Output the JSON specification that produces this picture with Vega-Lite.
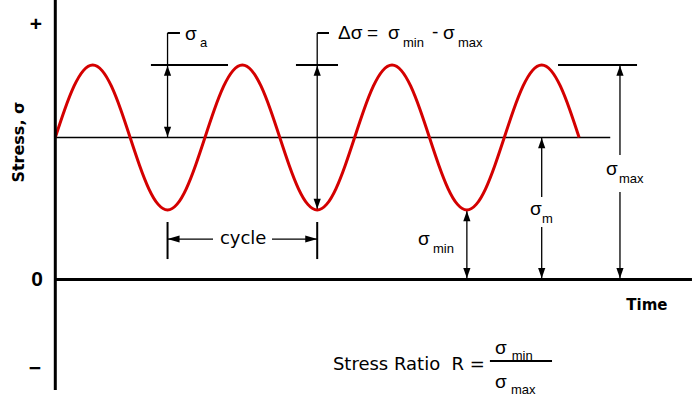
{
  "$schema": "https://vega.github.io/schema/vega-lite/v6.json",
  "width": 696,
  "height": 398,
  "autosize": "none",
  "padding": 0,
  "background": "white",
  "config": {"view": {"stroke": null}},
  "datasets": {
    "wave": [
      {"t":0,"s":10},{"t":0.0625,"s":11.95},{"t":0.125,"s":13.61},{"t":0.1875,"s":14.71},{"t":0.25,"s":15.1},{"t":0.3125,"s":14.71},{"t":0.375,"s":13.61},{"t":0.4375,"s":11.95},
      {"t":0.5,"s":10},{"t":0.5625,"s":8.05},{"t":0.625,"s":6.39},{"t":0.6875,"s":5.29},{"t":0.75,"s":4.9},{"t":0.8125,"s":5.29},{"t":0.875,"s":6.39},{"t":0.9375,"s":8.05},
      {"t":1,"s":10},{"t":1.0625,"s":11.95},{"t":1.125,"s":13.61},{"t":1.1875,"s":14.71},{"t":1.25,"s":15.1},{"t":1.3125,"s":14.71},{"t":1.375,"s":13.61},{"t":1.4375,"s":11.95},
      {"t":1.5,"s":10},{"t":1.5625,"s":8.05},{"t":1.625,"s":6.39},{"t":1.6875,"s":5.29},{"t":1.75,"s":4.9},{"t":1.8125,"s":5.29},{"t":1.875,"s":6.39},{"t":1.9375,"s":8.05},
      {"t":2,"s":10},{"t":2.0625,"s":11.95},{"t":2.125,"s":13.61},{"t":2.1875,"s":14.71},{"t":2.25,"s":15.1},{"t":2.3125,"s":14.71},{"t":2.375,"s":13.61},{"t":2.4375,"s":11.95},
      {"t":2.5,"s":10},{"t":2.5625,"s":8.05},{"t":2.625,"s":6.39},{"t":2.6875,"s":5.29},{"t":2.75,"s":4.9},{"t":2.8125,"s":5.29},{"t":2.875,"s":6.39},{"t":2.9375,"s":8.05},
      {"t":3,"s":10},{"t":3.0625,"s":11.95},{"t":3.125,"s":13.61},{"t":3.1875,"s":14.71},{"t":3.25,"s":15.1},{"t":3.3125,"s":14.71},{"t":3.375,"s":13.61},{"t":3.4375,"s":11.95},
      {"t":3.5,"s":10}
    ],
    "thick": [
      {"t":0,"s":19.7,"t2":0,"s2":-7.78},
      {"t":0,"s":0,"t2":4.254,"s2":0}
    ],
    "lines2": [
      {"t":0.639,"s":15.1,"t2":1.154,"s2":15.1},
      {"t":1.608,"s":15.1,"t2":1.889,"s2":15.1},
      {"t":3.359,"s":15.1,"t2":3.887,"s2":15.1},
      {"t":0.75,"s":17.36,"t2":0.833,"s2":17.36},
      {"t":1.75,"s":17.36,"t2":1.829,"s2":17.36},
      {"t":0.75,"s":4.05,"t2":0.75,"s2":1.44},
      {"t":1.75,"s":4.05,"t2":1.75,"s2":1.44},
      {"t":2.904,"s":-5.74,"t2":3.319,"s2":-5.74}
    ],
    "lines1": [
      {"t":0,"s":10,"t2":3.708,"s2":10},
      {"t":0.75,"s":17.36,"t2":0.75,"s2":10},
      {"t":1.75,"s":17.36,"t2":1.75,"s2":4.9},
      {"t":2.75,"s":4.9,"t2":2.75,"s2":0},
      {"t":3.25,"s":10,"t2":3.25,"s2":5.81},
      {"t":3.25,"s":3.7,"t2":3.25,"s2":0},
      {"t":3.773,"s":15.1,"t2":3.773,"s2":8.77},
      {"t":3.773,"s":6.16,"t2":3.773,"s2":0},
      {"t":0.75,"s":2.85,"t2":1.054,"s2":2.85},
      {"t":1.448,"s":2.85,"t2":1.75,"s2":2.85}
    ],
    "heads": [
      {"t":0.75,"s":14.7,"dir":"up"},
      {"t":0.75,"s":10.39,"dir":"down"},
      {"t":1.75,"s":14.7,"dir":"up"},
      {"t":1.75,"s":5.32,"dir":"down"},
      {"t":2.75,"s":4.47,"dir":"up"},
      {"t":2.75,"s":0.45,"dir":"down"},
      {"t":3.25,"s":9.61,"dir":"up"},
      {"t":3.25,"s":0.45,"dir":"down"},
      {"t":3.773,"s":14.7,"dir":"up"},
      {"t":3.773,"s":0.45,"dir":"down"},
      {"t":0.79,"s":2.85,"dir":"left"},
      {"t":1.71,"s":2.85,"dir":"right"}
    ],
    "sig": [
      {"t":0.866,"s":17.32,"text":"σ"},
      {"t":1.889,"s":17.36,"text":"Δσ"},
      {"t":2.083,"s":17.36,"text":"="},
      {"t":2.223,"s":17.36,"text":"σ"},
      {"t":2.517,"s":17.43,"text":"-"},
      {"t":2.59,"s":17.36,"text":"σ"},
      {"t":3.679,"s":7.77,"text":"σ"},
      {"t":3.171,"s":4.96,"text":"σ"},
      {"t":2.423,"s":2.85,"text":"σ"},
      {"t":2.938,"s":-4.82,"text":"σ"},
      {"t":2.938,"s":-7.22,"text":"σ"}
    ],
    "sub": [
      {"t":0.967,"s":16.65,"text":"a"},
      {"t":2.323,"s":16.65,"text":"min"},
      {"t":2.691,"s":16.65,"text":"max"},
      {"t":3.766,"s":7.08,"text":"max"},
      {"t":3.252,"s":4.26,"text":"m"},
      {"t":2.524,"s":2.15,"text":"min"},
      {"t":3.05,"s":-5.39,"text":"min"},
      {"t":3.045,"s":-7.78,"text":"max"}
    ],
    "lab": [
      {"t":1.1,"s":2.85,"text":"cycle"},
      {"t":1.855,"s":-5.99,"text":"Stress Ratio\u00a0\u00a0R ="}
    ],
    "signs": [
      {"t":-0.129,"s":17.92,"text":"+"},
      {"t":-0.122,"s":-0.035,"text":"0"},
      {"t":-0.136,"s":-6.3,"text":"−"}
    ],
    "time": [
      {"t":3.953,"s":-1.8,"text":"Time"}
    ],
    "ylab": [
      {"t":-0.2425,"s":9.68,"text":"Stress, σ"}
    ]
  },
  "encoding": {
    "x": {"field":"t","type":"quantitative","scale":{"domain":[-0.3695,4.281],"nice":false,"zero":false},"axis":null},
    "y": {"field":"s","type":"quantitative","scale":{"domain":[-8.345,19.683],"nice":false,"zero":false},"axis":null}
  },
  "layer": [
    {"data":{"name":"lines1"},"mark":{"type":"rule","color":"black","strokeWidth":1.3},
     "encoding":{"x2":{"field":"t2"},"y2":{"field":"s2"}}},
    {"data":{"name":"lines2"},"mark":{"type":"rule","color":"black","strokeWidth":2},
     "encoding":{"x2":{"field":"t2"},"y2":{"field":"s2"}}},
    {"data":{"name":"wave"},"mark":{"type":"line","color":"#d40000","strokeWidth":3,"interpolate":"natural"},
     "encoding":{"order":{"field":"t","type":"quantitative"}}},
    {"data":{"name":"thick"},"mark":{"type":"rule","color":"black","strokeWidth":3},
     "encoding":{"x2":{"field":"t2"},"y2":{"field":"s2"}}},
    {"data":{"name":"heads"},"mark":{"type":"point","filled":true,"color":"black","opacity":1,"size":144,"strokeWidth":0},
     "encoding":{"shape":{"field":"dir","type":"nominal","legend":null,
       "scale":{"domain":["up","down","left","right"],
                "range":["M0,-0.85L0.6,0.85L-0.6,0.85Z","M0,0.85L0.6,-0.85L-0.6,-0.85Z","M-1,0L1,-0.58L1,0.58Z","M1,0L-1,-0.58L-1,0.58Z"]}}}},
    {"data":{"name":"sig"},"mark":{"type":"text","font":"Liberation Sans","fontSize":19,"align":"left","baseline":"middle","color":"black"},
     "encoding":{"text":{"field":"text"}}},
    {"data":{"name":"sub"},"mark":{"type":"text","font":"Liberation Sans","fontSize":13,"align":"left","baseline":"middle","color":"black"},
     "encoding":{"text":{"field":"text"}}},
    {"data":{"name":"lab"},"mark":{"type":"text","font":"DejaVu Sans","fontSize":18,"align":"left","baseline":"middle","color":"black"},
     "encoding":{"text":{"field":"text"}}},
    {"data":{"name":"signs"},"mark":{"type":"text","font":"Liberation Sans","fontSize":21,"fontWeight":"bold","align":"center","baseline":"middle","color":"black"},
     "encoding":{"text":{"field":"text"}}},
    {"data":{"name":"time"},"mark":{"type":"text","font":"DejaVu Sans","fontSize":15,"fontWeight":"bold","align":"center","baseline":"middle","color":"black"},
     "encoding":{"text":{"field":"text"}}},
    {"data":{"name":"ylab"},"mark":{"type":"text","font":"DejaVu Sans","fontSize":16,"fontWeight":"bold","align":"center","baseline":"middle","angle":270,"color":"black"},
     "encoding":{"text":{"field":"text"}}}
  ]
}
